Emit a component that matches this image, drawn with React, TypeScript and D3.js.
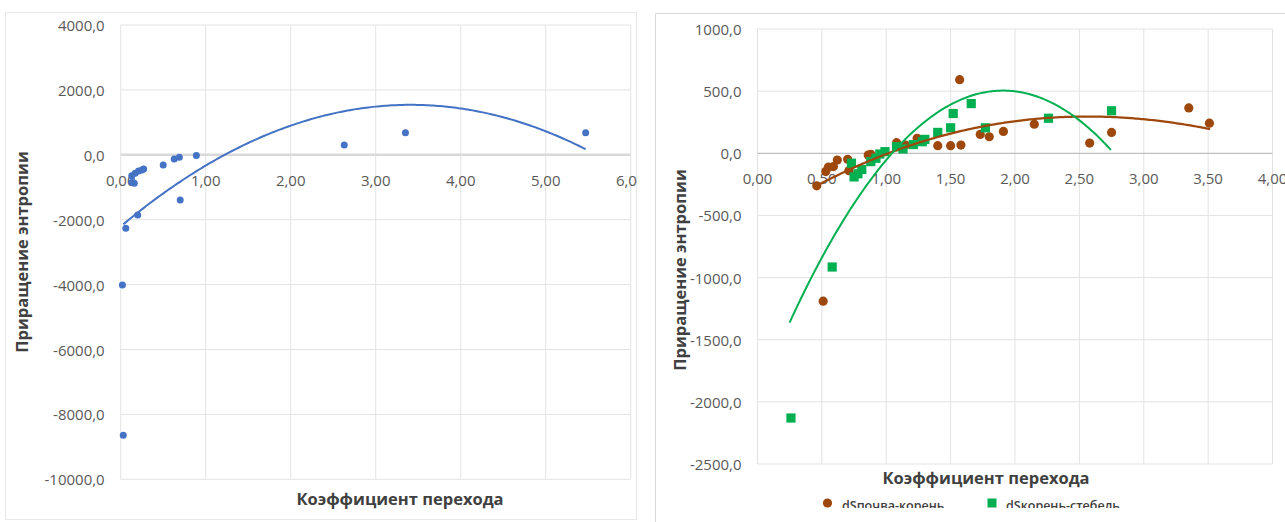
import React, { useEffect, useRef } from 'react';
import * as d3 from 'd3';

// left panel: one series + quadratic trend
const leftX = [0.02, 0.03, 0.06, 0.20, 0.13, 0.16, 0.13, 0.17, 0.21, 0.25, 0.27, 0.50, 0.63, 0.69, 0.89, 0.70, 2.63, 3.35, 5.47];
const leftY = [-4010, -8640, -2265, -1855, -850, -880, -645, -570, -500, -470, -440, -315, -130, -75, -25, -1395, 305, 680, 680];
const leftTrend = [-2209, 2198.8, -322.4]; // c0 + c1*x + c2*x^2
const leftTrendRange = [0.031, 5.47];
const leftXTicks = [0, 1, 2, 3, 4, 5, 6];
const leftYTicks = [4000, 2000, 0, -2000, -4000, -6000, -8000, -10000];

// right panel: two series + trends
const brownX = [0.46, 0.51, 0.53, 0.55, 0.59, 0.62, 0.70, 0.71, 0.86, 0.88, 1.08, 1.15, 1.24, 1.40, 1.50, 1.57, 1.58, 1.73, 1.80, 1.91, 2.15, 2.58, 2.75, 3.35, 3.51];
const brownY = [-262, -1190, -147, -112, -107, -54, -48, -140, -14, -8, 85, 66, 120, 61, 61, 592, 66, 152, 133, 176, 234, 82, 168, 365, 242];
const greenX = [0.26, 0.58, 0.73, 0.75, 0.78, 0.81, 0.88, 0.92, 0.95, 0.99, 1.08, 1.13, 1.21, 1.28, 1.30, 1.40, 1.50, 1.52, 1.66, 1.77, 2.26, 2.75];
const greenY = [-2130, -915, -80, -190, -165, -130, -67, -40, -6, 13, 53, 35, 70, 93, 112, 168, 205, 320, 400, 205, 282, 342];
const brownTrend = [-545.8, 686.3, -151.3, 4.54];
const brownTrendRange = [0.474, 3.515];
const greenTrend = [-1964.8, 2590, -679.2];
const greenTrendRange = [0.249, 2.745];
const rightXTicks = [0, 0.5, 1, 1.5, 2, 2.5, 3, 3.5, 4];
const rightYTicks = [1000, 500, 0, -500, -1000, -1500, -2000, -2500];
const seriesNames = ['dSпочва-корень', 'dSкорень-стебель'];

const xTitle = 'Коэффициент перехода';
const yTitle = 'Приращение энтропии';

const locale = d3.formatLocale({ decimal: ',', thousands: '', grouping: [3], currency: ['', ''], minus: '-' });
const fmtY = locale.format('.1f');
const fmtX = locale.format('.2f');

const poly = (c: number[]) => (x: number) => c.reduce((s, k, i) => s + k * Math.pow(x, i), 0);

const FONT = '"Open Sans", sans-serif';
const GRID = '#e3e3e3';
const LABEL = '#595959';
const TITLE = '#404040';

const App = () => {
  const ref = useRef<SVGSVGElement>(null);

  useEffect(() => {
    const svg = d3.select(ref.current);
    svg.selectAll('*').remove();

    const drawFrame = (g: any, x: any, y: any, xTicks: number[], yTicks: number[], zeroColor: string, zeroWidth: number) => {
      const [y0, y1] = [y.range()[0], y.range()[1]];
      const [x0, x1] = x.range();
      g.append('g').selectAll('line').data(xTicks).join('line')
        .attr('x1', d => x(d)).attr('x2', d => x(d))
        .attr('y1', y1).attr('y2', y0)
        .attr('stroke', GRID).attr('stroke-width', 1);
      g.append('g').selectAll('line').data(yTicks.filter(d => d !== 0)).join('line')
        .attr('x1', x0).attr('x2', x1)
        .attr('y1', d => y(d)).attr('y2', d => y(d))
        .attr('stroke', GRID).attr('stroke-width', 1);
      g.append('line')
        .attr('x1', x0).attr('x2', x1).attr('y1', y(0)).attr('y2', y(0))
        .attr('stroke', zeroColor).attr('stroke-width', zeroWidth);

      g.append('g').selectAll('text').data(yTicks).join('text')
        .attr('x', x0 - 16).attr('y', d => y(d))
        .attr('text-anchor', 'end').attr('dominant-baseline', 'central')
        .style('font-family', FONT).style('font-size', '15px').attr('fill', LABEL)
        .text(d => fmtY(d));
      g.append('g').selectAll('text').data(xTicks).join('text')
        .attr('x', d => x(d)).attr('y', y(0) + 25)
        .attr('text-anchor', 'middle').attr('dominant-baseline', 'central')
        .style('font-family', FONT).style('font-size', '15px').attr('fill', LABEL)
        .text(d => fmtX(d));
    };

    const drawTitles = (g: any, xCx: number, xBase: number, yBase: number, yCy: number) => {
      g.append('text')
        .attr('x', xCx).attr('y', xBase).attr('text-anchor', 'middle')
        .style('font-family', FONT).style('font-size', '16.5px').style('font-weight', 700)
        .attr('fill', TITLE).text(xTitle);
      g.append('text')
        .attr('transform', `translate(${yBase},${yCy}) rotate(-90)`).attr('text-anchor', 'middle')
        .style('font-family', FONT).style('font-size', '16.5px').style('font-weight', 700)
        .attr('fill', TITLE).text(yTitle);
    };

    const trendLine = (x: any, y: any, coef: number[], range: number[]) => {
      const f = poly(coef);
      const xs = d3.range(0, 201).map(i => range[0] + (range[1] - range[0]) * i / 200);
      return d3.line<number>().x(d => x(d)).y(d => y(f(d)))(xs);
    };

    const defs = svg.append('defs');
    defs.append('clipPath').attr('id', 'clip-left')
      .append('rect').attr('x', 5).attr('y', 12).attr('width', 632).attr('height', 508);
    defs.append('clipPath').attr('id', 'clip-legend')
      .append('rect').attr('x', 655).attr('y', 0).attr('width', 630).attr('height', 508);

    // ---------- left chart ----------
    const L = svg.append('g').attr('clip-path', 'url(#clip-left)');
    L.append('rect').attr('x', 5.5).attr('y', 12.5).attr('width', 631).attr('height', 507)
      .attr('fill', '#fff').attr('stroke', '#e8e8e8');

    const xL = d3.scaleLinear().domain([0, 6]).range([120.7, 630.7]);
    const yL = d3.scaleLinear().domain([-10000, 4000]).range([479.3, 25]);
    drawFrame(L, xL, yL, leftXTicks, leftYTicks, '#d9d9d9', 2.5);

    L.append('path')
      .attr('d', trendLine(xL, yL, leftTrend, leftTrendRange))
      .attr('fill', 'none').attr('stroke', '#4472C4').attr('stroke-width', 2);

    L.append('g').selectAll('circle').data(leftX).join('circle')
      .attr('cx', d => xL(d)).attr('cy', (d, i) => yL(leftY[i])).attr('r', 3.5)
      .attr('fill', '#4472C4');

    drawTitles(L, 400, 505, 28, 252);

    // ---------- right chart ----------
    const R = svg.append('g');
    R.append('line').attr('x1', 655.5).attr('x2', 655.5).attr('y1', 13.5).attr('y2', 522)
      .attr('stroke', '#d9d9d9');
    R.append('line').attr('x1', 655.5).attr('x2', 1285).attr('y1', 13.5).attr('y2', 13.5)
      .attr('stroke', '#d9d9d9');

    const xR = d3.scaleLinear().domain([0, 4]).range([757.5, 1272.5]);
    const yR = d3.scaleLinear().domain([-2500, 1000]).range([464, 29]);
    drawFrame(R, xR, yR, rightXTicks, rightYTicks, '#bfbfbf', 1.25);

    R.append('g').selectAll('circle').data(brownX).join('circle')
      .attr('cx', d => xR(d)).attr('cy', (d, i) => yR(brownY[i])).attr('r', 4.6)
      .attr('fill', '#9E480E');
    R.append('g').selectAll('rect').data(greenX).join('rect')
      .attr('x', d => xR(d) - 4.6).attr('y', (d, i) => yR(greenY[i]) - 4.6)
      .attr('width', 9.2).attr('height', 9.2)
      .attr('fill', '#00B050');

    R.append('path')
      .attr('d', trendLine(xR, yR, brownTrend, brownTrendRange))
      .attr('fill', 'none').attr('stroke', '#9E480E').attr('stroke-width', 2.25);
    R.append('path')
      .attr('d', trendLine(xR, yR, greenTrend, greenTrendRange))
      .attr('fill', 'none').attr('stroke', '#00B050').attr('stroke-width', 2);

    drawTitles(R, 986, 484, 686, 270);

    // legend (cut off at the bottom like the source image)
    const lg = R.append('g').attr('clip-path', 'url(#clip-legend)');
    lg.append('circle').attr('cx', 827.5).attr('cy', 503).attr('r', 4.6).attr('fill', '#9E480E');
    lg.append('rect').attr('x', 987.5).attr('y', 498.5).attr('width', 9).attr('height', 9).attr('fill', '#00B050');
    lg.selectAll('text.leg').data(seriesNames).join('text')
      .attr('class', 'leg')
      .attr('x', (d, i) => (i === 0 ? 842 : 1006)).attr('y', 510)
      .style('font-family', FONT).style('font-size', '12.5px').style('font-weight', 600)
      .attr('fill', TITLE).text(d => d);
  }, []);

  return (
    <svg ref={ref} width={1285} height={522}
      style={{ position: 'absolute', left: 0, top: 0, background: '#fff' }} />
  );
};

export default App;
